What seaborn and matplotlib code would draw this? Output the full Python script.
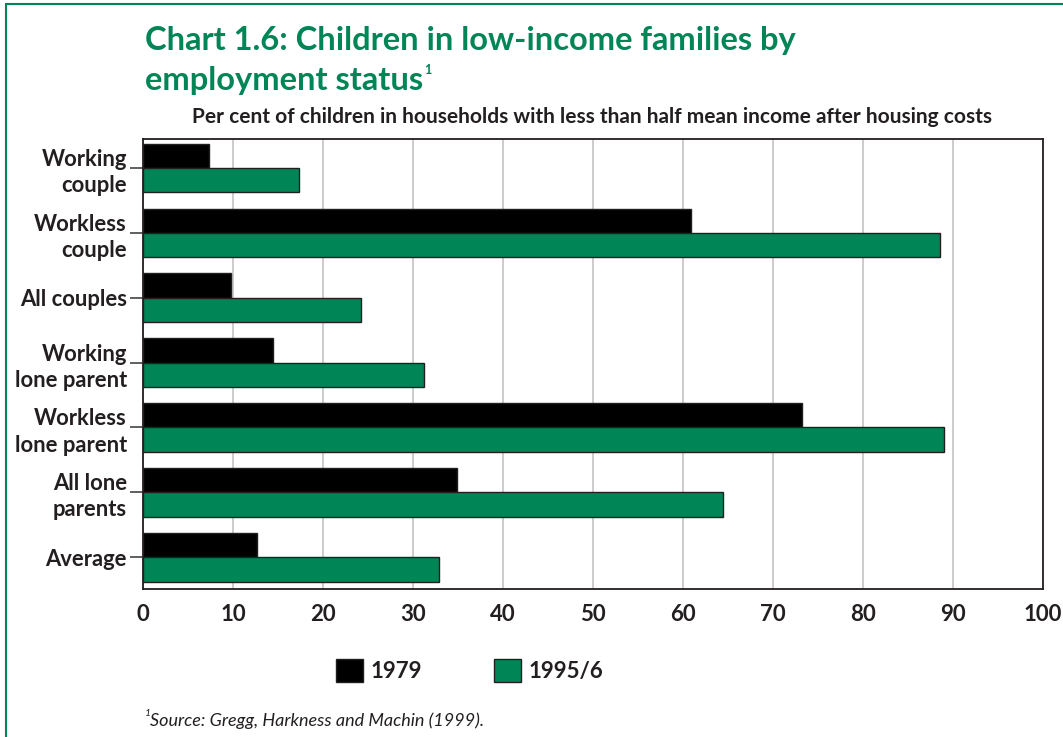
import matplotlib
matplotlib.use("Agg")
import matplotlib.pyplot as plt
import seaborn as sns
import pandas as pd
from matplotlib import font_manager
from matplotlib.patches import Rectangle

categories = ["Working\ncouple", "Workless\ncouple", "All couples", "Working\nlone parent",
              "Workless\nlone parent", "All lone\nparents", "Average"]
series_names = ["1979", "1995/6"]
values_1979 = [7.3, 60.9, 9.8, 14.4, 73.2, 34.9, 12.7]
values_1995 = [17.3, 88.6, 24.2, 31.2, 89.0, 64.4, 32.9]
x_ticks = [0, 10, 20, 30, 40, 50, 60, 70, 80, 90, 100]

GREEN = "#008556"
DARK = "#231f20"

names = {f.name for f in font_manager.fontManager.ttflist}
FONT = "Liberation Sans Narrow" if "Liberation Sans Narrow" in names else "Lato"

sns.set_theme(style="white")
plt.rcParams["font.family"] = [FONT, "DejaVu Sans"]

df = pd.DataFrame({
    "category": categories * 2,
    "value": values_1979 + values_1995,
    "year": [series_names[0]] * len(categories) + [series_names[1]] * len(categories),
})

fig = plt.figure(figsize=(10.63, 7.37), dpi=100)
ax = fig.add_axes([143 / 1063, 1 - 589 / 737, 900 / 1063, 450 / 737])

sns.barplot(data=df, y="category", x="value", hue="year", orient="h",
            palette={series_names[0]: "black", series_names[1]: GREEN},
            saturation=1, width=0.75, edgecolor=DARK, linewidth=1.0, ax=ax,
            legend=True, zorder=3)

ax.set_xlim(0, 100)
ax.set_ylim(6.49, -0.447)
ax.set_xticks(x_ticks)
ax.set_xticklabels([str(t) for t in x_ticks], fontsize=16, fontweight="bold", color=DARK)
ax.set_yticks(range(len(categories)))
ax.set_yticklabels(categories, fontsize=15.8, fontweight="bold", color=DARK, linespacing=1.3)
ax.set_xlabel("")
ax.set_ylabel("")
ax.grid(axis="x", color="#c8c8c8", linewidth=1.3, zorder=0)
ax.set_axisbelow(True)
for s in ax.spines.values():
    s.set_color(DARK)
    s.set_linewidth(1.3)
ax.tick_params(axis="y", length=9.5, width=1.2, color="#444444", pad=2, left=True)
ax.tick_params(axis="x", length=0, pad=11)

# legend
leg = ax.legend(loc="upper center", bbox_to_anchor=(0.363, -0.11), ncol=2, frameon=False,
                handlelength=1.23, handleheight=1.23, columnspacing=3.2,
                handletextpad=0.35, prop={"weight": "bold", "size": 16})
for t in leg.get_texts():
    t.set_color(DARK)

# titles
fig.text(145 / 1063, 1 - 50 / 737, "Chart 1.6: Children in low-income families by",
         fontsize=23.5, fontweight="bold", color=GREEN, ha="left", va="baseline")
t2 = fig.text(145 / 1063, 1 - 90 / 737, "employment status",
              fontsize=23.5, fontweight="bold", color=GREEN, ha="left", va="baseline")
fig.text(592 / 1063, 1 - 123 / 737,
         "Per cent of children in households with less than half mean income after housing costs",
         fontsize=15, fontweight="bold", color=DARK, ha="center", va="baseline")
src = fig.text(150 / 1063, 1 - 726 / 737, "Source: Gregg, Harkness and Machin (1999).",
               fontsize=13, style="italic", color=DARK, ha="left", va="baseline")
fig.text(145 / 1063, 1 - 716 / 737, "1", fontsize=7.5, style="italic", color=DARK,
         ha="left", va="baseline")

fig.canvas.draw()
r = fig.canvas.get_renderer()
bb = t2.get_window_extent(r)
fig.text((bb.x1 + 1) / 1063, 1 - 74 / 737, "1", fontsize=9, fontweight="bold", color=GREEN,
         ha="left", va="baseline")

# frame
fig.patches.append(Rectangle((6 / 1063, -0.05), 1.2, 1 - 4 / 737 + 0.05,
                             transform=fig.transFigure, fill=False,
                             edgecolor=GREEN, linewidth=1.5))

fig.savefig("out.png", dpi=100)
